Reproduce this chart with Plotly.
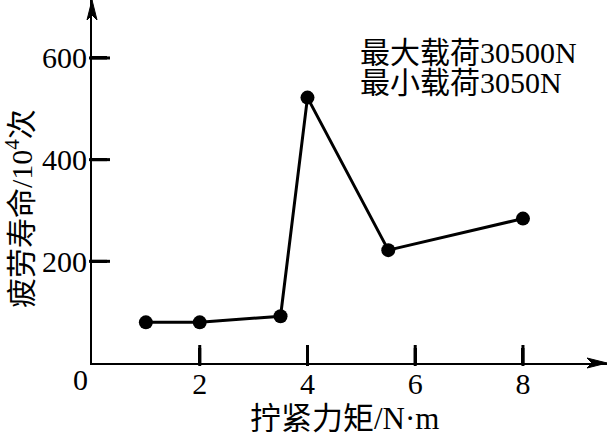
import plotly.graph_objects as go

torque = [1, 2, 3.5, 4, 5.5, 8]
life = [80, 80, 92, 522, 222, 284]
x_ticks = [2, 4, 6, 8]
y_ticks = [200, 400, 600]
x_title = "拧紧力矩/N·m"
y_title = "疲劳寿命/10<sup>4</sup>次"
note_lines = ["最大载荷30500N", "最小载荷3050N"]
note_y = [610, 551]

FONT = "Liberation Serif, Noto Sans CJK SC, serif"
X_RANGE = [0, 9.56]
Y_RANGE = [0, 714]
W, H = 608, 435
M = dict(l=92, r=1, t=0, b=72)
TICK_PX = 15

plot_w = W - M["l"] - M["r"]
plot_h = H - M["t"] - M["b"]
tick_dy = TICK_PX * (Y_RANGE[1] - Y_RANGE[0]) / plot_h
tick_dx = TICK_PX * (X_RANGE[1] - X_RANGE[0]) / plot_w

fig = go.Figure()

# inward tick marks as segments at tick values
tx, ty = [], []
for v in x_ticks:
    tx += [v, v, None]
    ty += [0, tick_dy, None]
for v in y_ticks:
    tx += [0, tick_dx, None]
    ty += [v, v, None]
fig.add_trace(go.Scatter(x=tx, y=ty, mode="lines", line=dict(color="black", width=3),
                         showlegend=False, hoverinfo="skip"))
# same ticks also as line-shaped markers
fig.add_trace(go.Scatter(
    x=x_ticks, y=[tick_dy / 2] * len(x_ticks), mode="markers",
    marker=dict(symbol="line-ns-open", size=TICK_PX, color="black", line=dict(width=3, color="black")),
    showlegend=False, hoverinfo="skip", cliponaxis=False))
fig.add_trace(go.Scatter(
    x=[tick_dx / 2] * len(y_ticks), y=y_ticks, mode="markers",
    marker=dict(symbol="line-ew-open", size=TICK_PX, color="black", line=dict(width=3, color="black")),
    showlegend=False, hoverinfo="skip", cliponaxis=False))

fig.add_trace(go.Scatter(
    x=torque, y=life, mode="lines+markers",
    line=dict(color="black", width=3),
    marker=dict(color="black", size=14),
    cliponaxis=False, showlegend=False, hoverinfo="skip",
))

axis_common = dict(
    showgrid=False, zeroline=False, showline=True, linecolor="black", linewidth=2,
    ticks="inside", ticklen=TICK_PX, tickwidth=3, tickcolor="black", automargin=False,
    tickfont=dict(family=FONT, size=30, color="black"),
)
fig.update_xaxes(range=X_RANGE, tickvals=x_ticks, ticktext=[str(v) for v in x_ticks],
                 ticklabelstandoff=-7, **axis_common)
fig.update_yaxes(range=Y_RANGE, tickvals=y_ticks, ticktext=[str(v) for v in y_ticks],
                 ticklabelstandoff=-3, **axis_common)

# axis titles
fig.add_annotation(x=0, y=0.424, xref="paper", yref="paper", text=y_title, showarrow=False,
                   xanchor="center", yanchor="middle",
                   textangle=-90, xshift=-73, font=dict(family=FONT, size=30, color="black"))
fig.add_annotation(x=0.491, y=0, xref="paper", yref="paper", text=x_title, showarrow=False,
                   xanchor="center", yanchor="middle",
                   yshift=-55, font=dict(family=FONT, size=31, color="black"))

# axis arrowheads
fig.add_shape(type="path", xref="paper", yref="paper", xsizemode="pixel", ysizemode="pixel",
              xanchor=1, yanchor=0, path="M0,0 L-20,5 L-15,0 L-20,-5 Z",
              fillcolor="black", line=dict(color="black", width=1))
fig.add_shape(type="path", xref="paper", yref="paper", xsizemode="pixel", ysizemode="pixel",
              xanchor=0, yanchor=1, path="M0,0 L-5,-20 L0,-15 L5,-20 Z",
              fillcolor="black", line=dict(color="black", width=1))

# origin label
fig.add_annotation(x=0, y=0, text="0", showarrow=False, xanchor="center", yanchor="middle",
                   xshift=-12, yshift=-16, font=dict(family=FONT, size=30, color="black"))
# load note
for txt, yy in zip(note_lines, note_y):
    fig.add_annotation(x=4.94, y=yy, text=txt, showarrow=False, xanchor="left", yanchor="middle",
                       align="left", font=dict(family=FONT, size=30, color="black"))

fig.update_layout(
    width=W, height=H, margin=M,
    plot_bgcolor="white", paper_bgcolor="white",
)
fig.write_html("out.html", config={"displayModeBar": False},
               post_script="document.body.style.margin='0';document.body.style.overflow='hidden';")
